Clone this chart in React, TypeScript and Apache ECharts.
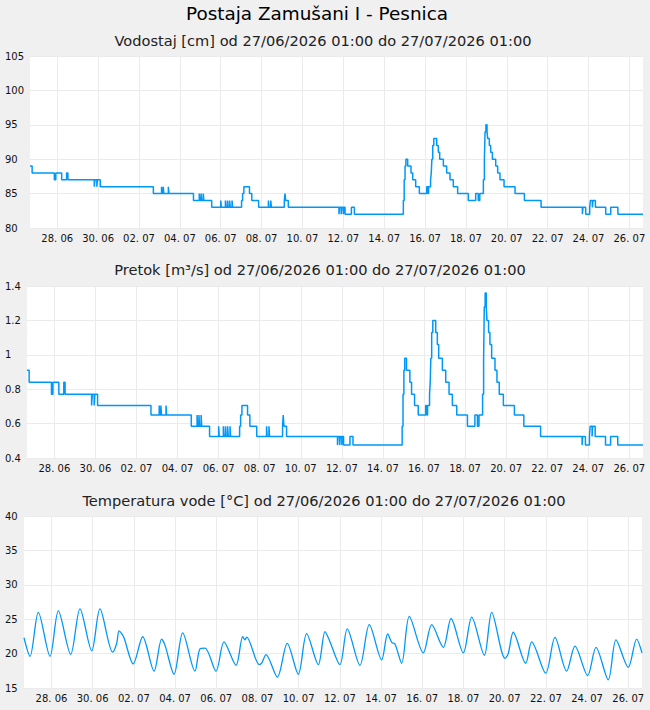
import React, { useEffect, useRef } from "react";
import * as echarts from "echarts";

// Hours from the left edge of the time axis (0 .. 720)
const stepHours = [
  0, 2.5, 28.6, 30.3, 37.2, 43.0, 44.5, 75.5, 76.3, 78.5, 79.2, 82.5,
  144.9, 154.5, 155.2, 156.5, 157.2, 162.5, 163.2, 192.0, 198.8, 199.5,
  201.0, 201.7, 203.5, 204.2, 213.4, 224.0, 224.7, 229.5, 230.2, 232.0,
  232.7, 234.5, 235.2, 237.3, 238.0, 248.5, 249.7, 251.2, 257.8, 260.5,
  268.5, 280.0, 280.7, 282.8, 283.5, 298.7, 299.5, 300.3, 303.4, 362.9,
  363.6, 365.5, 366.2, 368.0, 368.7, 370.0, 377.5, 381.0, 438.5, 439.5,
  440.5, 441.5, 443.6, 447.5, 449.5, 453.0, 457.3, 466.0, 467.3, 468.2,
  470.5, 471.3, 472.0, 473.0, 474.3, 477.7, 479.6, 481.2, 485.5, 489.4,
  493.3, 497.2, 502.3, 514.8, 523.5, 526.5, 528.3, 532.5, 533.7, 534.5,
  535.5, 536.8, 537.6, 539.5, 541.1, 543.1, 547.0, 549.3, 552.0, 556.8,
  569.7, 580.7, 600.3, 648.8, 649.5, 652.7, 657.4, 658.2, 660.5, 661.2,
  664.1, 676.2, 682.1, 690.5, 720,
];

const levelCm = [
  89, 88, 87, 88, 87, 88, 87, 86, 87, 86, 87, 86,
  85, 86, 85, 86, 85, 86, 85, 84, 85, 84,
  85, 84, 85, 84, 83, 84, 83, 84, 83, 84,
  83, 84, 83, 84, 83, 84, 85, 86, 85, 84,
  83, 84, 83, 84, 83, 84, 85, 84, 83, 82,
  83, 82, 83, 82, 83, 82, 83, 82, 84, 87,
  89, 90, 89, 88, 87, 86, 85, 86, 85, 86,
  87, 88, 90, 92, 93, 92, 91, 90, 89, 88,
  87, 86, 85, 84, 85, 84, 85, 87, 90, 94,
  95, 94, 93, 92, 91, 90, 89, 88, 87, 86,
  85, 84, 83, 82, 83, 82, 83, 84, 83, 84,
  83, 82, 83, 82, 82,
];

const flowM3s = [
  0.91, 0.84, 0.77, 0.84, 0.77, 0.84, 0.77, 0.705, 0.77, 0.705, 0.77, 0.705,
  0.65, 0.705, 0.65, 0.705, 0.65, 0.705, 0.65, 0.585, 0.65, 0.585,
  0.65, 0.585, 0.65, 0.585, 0.525, 0.585, 0.525, 0.585, 0.525, 0.585,
  0.525, 0.585, 0.525, 0.585, 0.525, 0.585, 0.65, 0.705, 0.65, 0.585,
  0.525, 0.585, 0.525, 0.585, 0.525, 0.585, 0.65, 0.585, 0.525, 0.475,
  0.525, 0.475, 0.525, 0.475, 0.525, 0.475, 0.525, 0.475, 0.585, 0.77,
  0.91, 0.98, 0.91, 0.84, 0.77, 0.705, 0.65, 0.705, 0.65, 0.705,
  0.77, 0.84, 0.98, 1.13, 1.2, 1.13, 1.06, 0.98, 0.91, 0.84,
  0.77, 0.705, 0.65, 0.585, 0.65, 0.585, 0.65, 0.77, 0.98, 1.28,
  1.36, 1.28, 1.2, 1.13, 1.06, 0.98, 0.91, 0.84, 0.77, 0.705,
  0.65, 0.585, 0.525, 0.475, 0.525, 0.475, 0.525, 0.585, 0.525, 0.585,
  0.525, 0.475, 0.525, 0.475, 0.475,
];

const tempHours = [
  0, 7.0, 16.7, 30.3, 40.0, 54.4, 65.2, 78.9, 88.5, 103.3, 108, 110.7,
  113.8, 116.5, 127.3, 138.3, 151.5, 160.4, 164.3, 174.8, 184.9, 199.2,
  205, 210.9, 223.7, 233, 247, 254.8, 257.5, 259.4, 274.1, 276.9, 281.9,
  295.1, 306.7, 319.6, 329.3, 342.9, 350.7, 355.3, 368.1, 376.6, 391.4,
  402.3, 416.7, 423.7, 428.7, 432.2, 440, 448.9, 465.2, 475, 488.5,
  497.5, 511.8, 521.6, 536.3, 544.9, 560.4, 564.2, 570, 584.5, 591.5,
  607.8, 618.6, 632.2, 641.9, 656.7, 666.4, 680.7, 689.7, 704, 713.8, 720,
];

const tempC = [
  22.3, 19.6, 26.0, 19.6, 26.2, 19.9, 26.5, 20.4, 26.5, 20.2, 21.5, 23.3,
  22.9, 22.3, 18.5, 22.45, 17.45, 22.1, 21.2, 17.0, 23.0, 17.45,
  20.7, 20.8, 17.45, 21.7, 18.3, 22.45, 22.0, 22.4, 18.4, 18.6, 19.85,
  16.6, 21.5, 17.0, 22.9, 18.4, 23.2, 22.1, 18.4, 23.6, 18.3,
  24.2, 19.1, 22.85, 21.6, 21.4, 18.6, 25.4, 20.1, 24.2, 20.9,
  25.1, 20.1, 25.3, 19.75, 26.0, 19.3, 20.0, 23.1, 18.6, 21.7,
  17.15, 22.35, 17.45, 21.1, 16.8, 20.9, 16.2, 22.0, 18.0, 22.1, 20.1,
];

const dayTickHours = [32, 80, 128, 176, 224, 272, 320, 368, 416, 464, 512, 560, 608, 656, 704];
const dayTickLabels = [
  "28. 06", "30. 06", "02. 07", "04. 07", "06. 07", "08. 07", "10. 07", "12. 07",
  "14. 07", "16. 07", "18. 07", "20. 07", "22. 07", "24. 07", "26. 07",
];

const mainTitle = "Postaja Zamušani I - Pesnica";
const panelTitles = [
  "Vodostaj [cm] od 27/06/2026 01:00 do 27/07/2026 01:00",
  "Pretok [m³/s] od 27/06/2026 01:00 do 27/07/2026 01:00",
  "Temperatura vode [°C] od 27/06/2026 01:00 do 27/07/2026 01:00",
];

export default function App() {
  const ref = useRef<HTMLDivElement>(null);

  useEffect(() => {
    if (!ref.current) return;
    const chart = echarts.init(ref.current, null, { renderer: "svg" });
    const font = "DejaVu Sans";
    const lineColor = "#0098f8";
    const gridColor = "#ebebeb";
    const labelColor = "#111";

    const grids = [
      { left: 30, top: 56, right: 7, height: 172 },
      { left: 27, top: 286, right: 7, height: 172 },
      { left: 24, top: 516, right: 8, height: 172 },
    ];
    const yCfg = [
      { min: 80, max: 105, interval: 5 },
      { min: 0.4, max: 1.4, interval: 0.2 },
      { min: 15, max: 40, interval: 5 },
    ];
    const titleY = [40, 269.5, 500];
    const titleX = [323, 320, 324];

    const option: any = {
      animation: false,
      backgroundColor: "#f0f0f0",
      textStyle: { fontFamily: font },
      grid: grids.map((g) => ({
        ...g,
        show: true,
        backgroundColor: "#ffffff",
        borderWidth: 0,
        containLabel: false,
        outerBoundsMode: "none",
      })),
      xAxis: grids.map((_, i) => ({
        type: "value",
        gridIndex: i,
        min: 0,
        max: 720,
        axisLine: { show: false },
        axisTick: { show: false, customValues: dayTickHours },
        axisLabel: {
          customValues: dayTickHours,
          formatter: (v: number) => {
            const k = dayTickHours.indexOf(Math.round(v));
            return k >= 0 ? dayTickLabels[k] : "";
          },
          fontSize: 10,
          fontFamily: font,
          color: labelColor,
          margin: 5,
        },
        splitLine: { show: true, lineStyle: { color: gridColor, width: 1 } },
      })),
      yAxis: grids.map((g, i) => ({
        type: "value",
        gridIndex: i,
        min: yCfg[i].min,
        max: yCfg[i].max,
        interval: yCfg[i].interval,
        axisLine: { show: false },
        axisTick: { show: false },
        axisLabel: {
          align: "left",
          margin: g.left - 5,
          fontSize: 10,
          fontFamily: font,
          color: labelColor,
        },
        splitLine: { show: true, lineStyle: { color: gridColor, width: 1 } },
      })),
      series: [
        {
          type: "line",
          xAxisIndex: 0,
          yAxisIndex: 0,
          step: "end",
          showSymbol: false,
          silent: true,
          data: stepHours.map((h, i) => [h, levelCm[i]]),
          lineStyle: { color: lineColor, width: 1.5 },
          itemStyle: { color: lineColor },
        },
        {
          type: "line",
          xAxisIndex: 1,
          yAxisIndex: 1,
          step: "end",
          showSymbol: false,
          silent: true,
          data: stepHours.map((h, i) => [h, flowM3s[i]]),
          lineStyle: { color: lineColor, width: 1.5 },
          itemStyle: { color: lineColor },
        },
        {
          type: "line",
          xAxisIndex: 2,
          yAxisIndex: 2,
          smooth: 0.3,
          showSymbol: false,
          silent: true,
          data: tempHours.map((h, i) => [h, tempC[i]]),
          lineStyle: { color: lineColor, width: 1.3 },
          itemStyle: { color: lineColor },
        },
      ],
      graphic: [
        {
          type: "text",
          x: 317,
          y: 13,
          silent: true,
          style: {
            text: mainTitle,
            fontSize: 18.4,
            fontFamily: font,
            fill: "#000",
            align: "center",
            verticalAlign: "middle",
            textAlign: "center",
            textVerticalAlign: "middle",
          },
        },
        ...panelTitles.map((t, i) => ({
          type: "text",
          x: titleX[i],
          y: titleY[i],
          silent: true,
          style: {
            text: t,
            fontSize: 14.6,
            fontFamily: font,
            fontWeight: "normal",
            fill: "#222",
            align: "center",
            verticalAlign: "middle",
            textAlign: "center",
            textVerticalAlign: "middle",
          },
        })),
      ],
    };

    chart.setOption(option);
    return () => chart.dispose();
  }, []);

  return (
    <div
      ref={ref}
      style={{ position: "fixed", left: 0, top: 0, width: 650, height: 710 }}
    />
  );
}
